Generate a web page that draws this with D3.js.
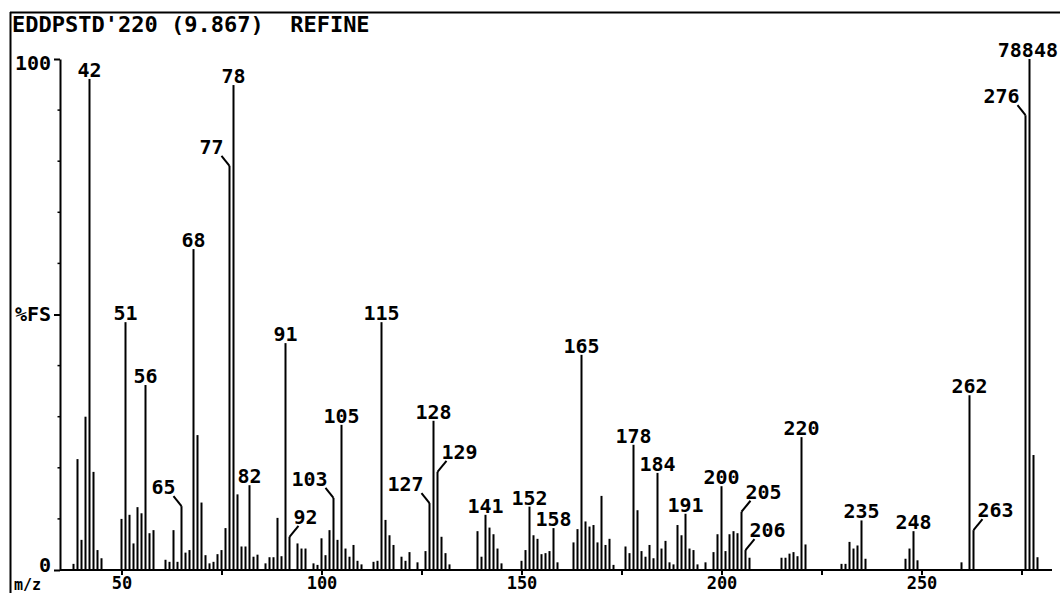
<!DOCTYPE html>
<html>
<head>
<meta charset="utf-8">
<script src="https://cdn.jsdelivr.net/npm/d3@7"></script>
<style>
  html, body { margin: 0; padding: 0; background: #fff; }
  svg { display: block; }
  text { font-family: "DejaVu Sans Mono", monospace; font-weight: bold; fill: #000; white-space: pre; }
</style>
</head>
<body>
<svg id="chart" width="1060" height="593"></svg>
<script>
// Mass spectrum: m/z vs relative abundance (% of full scale)
const title = "EDDPSTD'220 (9.867)  REFINE";
const fullScale = "78848";

const masses = [
  38, 39, 40, 41, 42, 43, 44, 45,
  50, 51, 52, 53, 54, 55, 56, 57, 58,
  61, 62, 63, 64, 65, 66, 67, 68, 69, 70, 71, 72, 73, 74, 75, 76, 77, 78, 79, 80, 81, 82, 83, 84,
  86, 87, 88, 89, 90, 91, 92, 94, 95, 96, 98, 99, 100, 101, 102, 103, 104, 105, 106, 107, 108, 109, 110,
  113, 114, 115, 116, 117, 118, 120, 121, 122, 124, 126, 127, 128, 129, 130, 131, 132,
  139, 140, 141, 142, 143, 144, 145,
  150, 151, 152, 153, 154, 155, 156, 157, 158, 159,
  163, 164, 165, 166, 167, 168, 169, 170, 171, 172, 173,
  176, 177, 178, 179, 180, 181, 182, 183, 184, 185, 186, 187, 188, 189, 190, 191, 192, 193, 194, 196,
  198, 199, 200, 201, 202, 203, 204, 205, 206, 207,
  215, 216, 217, 218, 219, 220, 221,
  230, 231, 232, 233, 234, 235, 236,
  246, 247, 248, 249,
  260, 262, 263, 276, 277, 278, 279
];

const abundance = [
  1.2, 21.7, 5.9, 30, 96.1, 19.2, 3.9, 2.3,
  10, 48.5, 10.8, 5.2, 12.3, 11.1, 36.2, 7.2, 7.8,
  2, 1.6, 7.8, 1.6, 12.5, 3.4, 3.9, 62.8, 26.4, 13.2, 2.9, 1.3, 1.6, 3.1, 3.9, 8.2, 79.1, 94.9, 14.8, 4.6, 4.6, 16.6, 2.6, 3,
  1.3, 2.5, 2.5, 10.2, 2.7, 44.4, 6.5, 5.2, 4.2, 4.2, 1.3, 1, 6.2, 2.9, 7.8, 14.1, 5.9, 28.4, 4.2, 2.6, 4.9, 1.8, 1.1,
  1.6, 1.8, 48.5, 9.8, 6.8, 4.9, 2.6, 1.8, 3.5, 1.5, 3.7, 13.1, 29.2, 19.2, 6.5, 3.3, 1.1,
  7.6, 2.6, 10.8, 8.3, 7, 4.2, 1.3,
  1.8, 3.9, 12.4, 6.8, 6.1, 3.1, 3.3, 3.7, 8.2, 1.5,
  5.4, 8, 42.1, 9.5, 8.5, 8.8, 5.4, 14.5, 4.9, 6.1, 1,
  4.6, 3.3, 24.5, 11.7, 3.7, 2.6, 4.9, 2.3, 19, 4.2, 5.7, 1.5, 1.1, 8.8, 6.8, 11, 4.2, 3.9, 1.1, 1.5,
  3.5, 7, 16.4, 3.7, 7, 7.6, 7.2, 11.4, 3.9, 2.4,
  2.4, 2.4, 3.2, 3.5, 2.7, 26, 5,
  1.2, 1.2, 5.5, 4.2, 4.8, 9.7, 2.2,
  2.2, 4.2, 7.6, 1.9,
  1.5, 34.2, 7.8, 89, 100, 22.5, 2.5
];

// Peaks that carry an m/z annotation
const labeledMasses = [42, 51, 56, 65, 68, 77, 78, 82, 91, 92, 103, 105, 115, 127, 128, 129,
  141, 152, 158, 165, 178, 184, 191, 200, 205, 206, 220, 235, 248, 262, 263, 276];
// Annotations set off with a short leader line
const leaderLeft = [65, 77, 103, 127, 276];
const leaderRight = [92, 129, 205, 206, 263];

const xMajorTicks = [50, 75, 100, 125, 150, 175, 200, 225, 250, 275];
const xLabelTicks = [50, 100, 150, 200, 250];
const yTickValues = [0, 50, 100];
const yTickText = ["0", "%FS", "100"];
const yMinorTicks = [10, 20, 30, 40, 60, 70, 80, 90];

const svg = d3.select("#chart");

const x = d3.scaleLinear().domain([50, 275]).range([121.5, 1021.5]);
const y = d3.scaleLinear().domain([0, 100]).range([570, 59]);
const axisX = 60;
const baseY = y(0);

// Frame: header rule and left border
svg.append("line").attr("x1", 10).attr("x2", 1060).attr("y1", 12.5).attr("y2", 12.5)
  .attr("stroke", "#000").attr("stroke-width", 2);
svg.append("line").attr("x1", 10.5).attr("x2", 10.5).attr("y1", 12).attr("y2", 593)
  .attr("stroke", "#000").attr("stroke-width", 2);

svg.append("text").attr("x", 12).attr("y", 32).attr("font-size", 22)
  .attr("xml:space", "preserve").text(title);

// Peaks
const peaks = masses.map((m, i) => ({ m, v: abundance[i] }));
svg.append("g").selectAll("rect").data(peaks).join("rect")
  .attr("x", d => x(d.m) - 1)
  .attr("width", 2)
  .attr("y", d => y(d.v))
  .attr("height", d => baseY - y(d.v))
  .attr("fill", "#000");

// Baseline
svg.append("line").attr("x1", axisX).attr("x2", 1052).attr("y1", baseY).attr("y2", baseY)
  .attr("stroke", "#000").attr("stroke-width", 2);

// X axis ticks and labels
const xAxis = d3.axisBottom(x).tickValues(xMajorTicks).tickSize(5).tickSizeOuter(0)
  .tickFormat(d => xLabelTicks.includes(d) ? String(d) : "");
const gx = svg.append("g").attr("transform", `translate(0,${baseY})`).call(xAxis);
gx.select(".domain").remove();
gx.selectAll(".tick line").attr("stroke", "#000").attr("stroke-width", 2);
gx.selectAll(".tick text").filter(d => !xLabelTicks.includes(d)).remove();
gx.selectAll(".tick text").attr("font-size", 17).attr("font-family", null)
  .attr("y", 19).attr("dy", null).attr("fill", "#000");

svg.append("text").attr("x", 14).attr("y", 590).attr("font-size", 15).text("m/z");

// Y axis
const yAxis = d3.axisLeft(y).tickValues(yTickValues).tickSize(6).tickSizeOuter(0)
  .tickFormat(d => yTickText[yTickValues.indexOf(d)]);
const gy = svg.append("g").attr("transform", `translate(${axisX},0)`).call(yAxis);
gy.select(".domain").attr("stroke", "#000").attr("stroke-width", 2);
gy.selectAll(".tick line").attr("stroke", "#000").attr("stroke-width", 2);
gy.selectAll(".tick text").attr("font-size", 20).attr("font-family", null)
  .attr("x", -9).attr("fill", "#000");
gy.selectAll(".tick").filter(d => d === 100).select("text").attr("dy", "0.5em");
gy.selectAll(".tick").filter(d => d === 0).select("text").attr("dy", "0.05em");

svg.append("g").selectAll("line").data(yMinorTicks).join("line")
  .attr("x1", axisX - 2.5).attr("x2", axisX).attr("y1", d => y(d)).attr("y2", d => y(d))
  .attr("stroke", "#000").attr("stroke-width", 1.5);

// Full-scale intensity above the tallest peak
svg.append("text").attr("x", 1058).attr("y", 57).attr("font-size", 20)
  .attr("text-anchor", "end").text(fullScale);

// Peak annotations
const labelG = svg.append("g");
labeledMasses.forEach(m => {
  const v = abundance[masses.indexOf(m)];
  const px = x(m), py = y(v);
  if (leaderLeft.includes(m)) {
    const ex = px - 8, ey = py - 10;
    labelG.append("line").attr("x1", px).attr("y1", py).attr("x2", ex).attr("y2", ey)
      .attr("stroke", "#000").attr("stroke-width", 2);
    labelG.append("text").attr("x", ex + 2).attr("y", ey - 2).attr("font-size", 20)
      .attr("text-anchor", "end").text(m);
  } else if (leaderRight.includes(m)) {
    const ex = px + 9, ey = py - 11;
    labelG.append("line").attr("x1", px).attr("y1", py).attr("x2", ex).attr("y2", ey)
      .attr("stroke", "#000").attr("stroke-width", 2);
    labelG.append("text").attr("x", ex - 5).attr("y", ey - 2).attr("font-size", 20)
      .attr("text-anchor", "start").text(m);
  } else {
    labelG.append("text").attr("x", px).attr("y", py - 2).attr("font-size", 20)
      .attr("text-anchor", "middle").text(m);
  }
});
</script>
</body>
</html>
